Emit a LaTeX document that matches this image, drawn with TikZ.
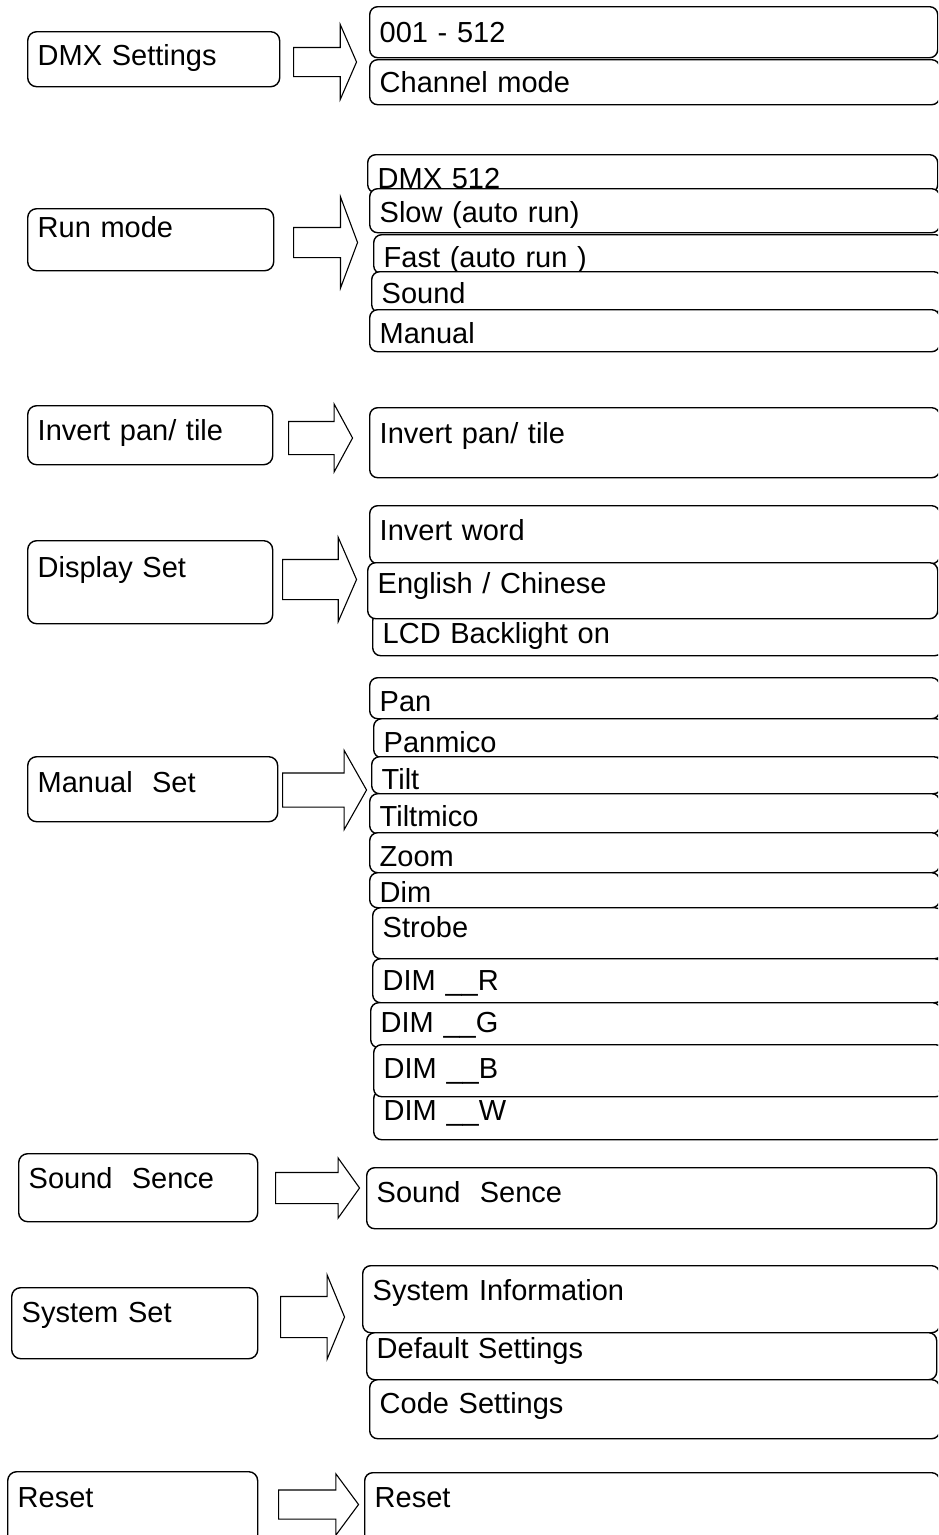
\documentclass[tikz,border=0pt]{standalone}
\usepackage{fontspec}
\setmainfont{Liberation Sans}
\usetikzlibrary{shapes.arrows}

\begin{document}
\begin{tikzpicture}[x=1pt,y=-1pt,
  menu/.style={rectangle,rounded corners=9pt,draw,fill=white,line width=1.4pt,
               anchor=north west,inner xsep=10pt,inner ysep=0pt,align=left,
               font=\fontsize{29}{34}\selectfont},
  sub/.style={menu,rounded corners=8pt,text width=550pt},
  blk/.style n args={4}{single arrow,draw,fill=white,line width=1.1pt,
               anchor=tail,inner sep=0pt,text height=#1pt,text depth=0pt,
               single arrow head extend=#2pt,minimum height=#3pt,
               single arrow tip angle=#4}]
\useasboundingbox (0,0) rectangle (938,1535);
\clip (0,0) rectangle (938,1535);
\fill[white] (0,0) rectangle (938,1535);
% main menu
\node[menu,text width=232pt,text height=34pt,text depth=21pt] (dmx) at (27,31) {DMX Settings};
\node[menu,text width=226pt,text height=29pt,text depth=33pt] (run) at (27,208) {Run mode};
\node[menu,text width=225pt,text height=35pt,text depth=24pt] (inv) at (27,405) {Invert pan/ tile};
\node[menu,text width=225pt,text height=37pt,text depth=46pt] (disp) at (27,540) {Display Set};
\node[menu,text width=230pt,text height=36pt,text depth=29pt] (man) at (27,756) {Manual\ \ Set};
\node[menu,text width=219pt,text height=35pt,text depth=33pt] (snd) at (18,1153) {Sound\ \ Sence};
\node[menu,text width=226pt,text height=35pt,text depth=36pt] (sys) at (11,1287) {System Set};
\node[menu,text width=230pt,text height=36pt,text depth=38pt] (rst) at (7,1471) {Reset};
% block arrows
\node[blk={28}{23}{63}{133}] (dmxarr) at (293,62) {};
\node[blk={29}{30.5}{64}{139}] (runarr) at (293,242.5) {};
\node[blk={32}{17.5}{64}{123}] (invarr) at (288,438) {};
\node[blk={39}{22}{74}{133}] (disparr) at (282,579.5) {};
\node[blk={33}{22.5}{84}{121}] (manarr) at (282,790) {};
\node[blk={30}{14.5}{84}{109}] (sndarr) at (275,1188) {};
\node[blk={40}{21.5}{64}{135}] (sysarr) at (280,1317) {};
\node[blk={28}{16}{80}{107}] (rstarr) at (278,1504.5) {};
% sub menus
\node[sub,text width=548pt,text height=36pt,text depth=15pt] (dmx1) at (369,6) {001 - 512};
\node[sub,text height=33pt,text depth=12pt] (dmx2) at (369,59) {Channel mode};
\node[sub,text height=34pt,text depth=4pt] (run1) at (367,154) {DMX 512};
\node[sub,text height=34pt,text depth=10pt] (run2) at (369,188) {Slow (auto run)};
\node[sub,text height=33pt,text depth=6pt] (run3) at (373,234) {Fast (auto run )};
\node[sub,text height=32pt,text depth=9pt] (run4) at (371,271) {Sound};
\node[sub,text height=34pt,text depth=8pt] (run5) at (369,309) {Manual};
\node[sub,text height=36pt,text depth=34pt] (inv1) at (369,407) {Invert pan/ tile};
\node[sub,text height=35pt,text depth=23pt] (disp1) at (369,505) {Invert word};
\node[sub,text height=31pt,text depth=12pt] (disp3) at (372,612) {LCD Backlight on};
\node[sub,text height=31pt,text depth=25pt] (disp2) at (367,562) {English / Chinese};
\node[sub,text height=34pt,text depth=7pt] (man1) at (369,677) {Pan};
\node[sub,text height=34pt,text depth=5pt] (man2) at (373,718) {Panmico};
\node[sub,text height=33pt,text depth=4pt] (man3) at (371,756) {Tilt};
\node[sub,text height=33pt,text depth=7pt] (man4) at (369,793) {Tiltmico};
\node[sub,text height=34pt,text depth=6pt] (man5) at (369,832) {Zoom};
\node[sub,text height=30pt,text depth=5pt] (man6) at (369,872) {Dim};
\node[sub,text height=30pt,text depth=21pt] (man7) at (372,907) {Strobe};
\node[sub,text height=32pt,text depth=12pt] (man8) at (372,958) {DIM \_\_R};
\node[sub,text height=30pt,text depth=15pt] (man9) at (370,1002) {DIM \_\_G};
\node[sub,text height=30pt,text depth=19pt] (man11) at (373,1090) {DIM \_\_W};
\node[sub,text height=34pt,text depth=18pt] (man10) at (373,1044) {DIM \_\_B};
\node[sub,text height=35pt,text depth=26pt] (snd1) at (366,1167) {Sound\ \ Sence};
\node[sub,text width=557pt,text height=35pt,text depth=32pt] (sys1) at (362,1265) {System Information};
\node[sub,text height=26pt,text depth=21pt] (sys2) at (366,1332) {Default Settings};
\node[sub,text height=34pt,text depth=25pt] (sys3) at (369,1379) {Code Settings};
\node[sub,text width=555pt,text height=35pt,text depth=38pt] (rst1) at (364,1472) {Reset};
\end{tikzpicture}
\end{document}
